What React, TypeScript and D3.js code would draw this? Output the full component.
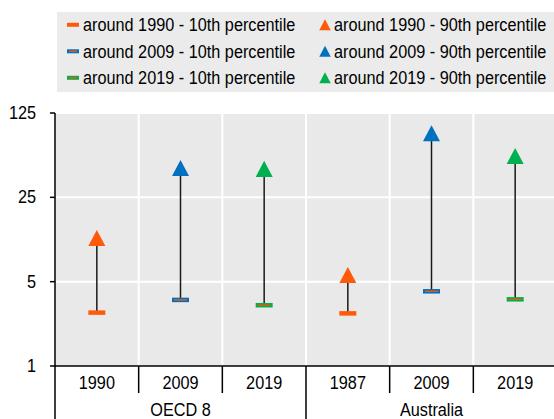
import React from "react";
import * as d3 from "d3";

// categories
const groups = ["OECD 8", "Australia"];
const periods = ["1990", "2009", "2019", "1987", "2009", "2019"];
const groupIndex = [0, 0, 0, 1, 1, 1];
const waveIndex = [0, 1, 2, 0, 1, 2];

// series values
const p10 = [2.77, 3.53, 3.19, 2.73, 4.16, 3.57];
const p90 = [11.5, 43.8, 43, 5.68, 85, 55];

const waves = ["around 1990", "around 2009", "around 2019"];
const waveColors = ["#FF5A0A", "#0070C0", "#00B050"];
const yTicks = [1, 5, 25, 125];

const W = 554;
const H = 419;
const FONT = "'Liberation Sans', Arial, sans-serif";
const FS = 17.5;
const SX = 0.93; // the original font is a slightly condensed Arial

const tri = (cx: number, cy: number, s: number) => {
  const h = s * 0.95;
  return `M${cx},${cy - h / 2}L${cx + s / 2},${cy + h / 2}L${cx - s / 2},${cy + h / 2}Z`;
};

const Txt = ({ x, y, anchor = "start", children }: { x: number; y: number; anchor?: string; children: React.ReactNode }) => (
  <text
    transform={`translate(${x},${y}) scale(${SX},1)`}
    dy="0.35em"
    textAnchor={anchor}
    fontSize={FS}
    fill="#000"
  >
    {children}
  </text>
);

const LowMark = ({ cx, cy, w, h, wave }: { cx: number; cy: number; w: number; h: number; wave: number }) => (
  <g>
    <rect x={cx - w / 2} y={cy - h / 2} width={w} height={h} fill={waveColors[wave]} />
    {wave > 0 && (
      <rect x={cx - w / 2 + 2} y={cy - 0.75} width={w - 4} height={1.5} fill="#E8590C" />
    )}
  </g>
);

export default function App() {
  const left = 55;
  const right = 557;
  const top = 113;
  const bottom = 366;

  const x = d3.scaleBand<number>().domain(d3.range(periods.length)).range([left, right]).padding(0);
  const y = d3.scaleLog().base(5).domain([1, 125]).range([bottom, top]);
  const bw = x.bandwidth();

  const legendRows = [25.3, 51.8, 78.3];

  return (
    <svg width={W} height={H} style={{ position: "absolute", left: 0, top: 0 }} fontFamily={FONT}>
      {/* legend */}
      <rect x={57} y={12} width={497} height={80} fill="#EBEBEB" />
      {waves.map((wv, i) => (
        <g key={wv}>
          <LowMark cx={73} cy={legendRows[i] - 0.5} w={12} h={4} wave={i} />
          <Txt x={83} y={legendRows[i]}>{`${wv} - 10th percentile`}</Txt>
          <path d={tri(325, legendRows[i] - 0.5, 11.5)} fill={waveColors[i]} />
          <Txt x={334} y={legendRows[i]}>{`${wv} - 90th percentile`}</Txt>
        </g>
      ))}

      {/* plot background */}
      <rect x={left} y={top} width={right - left} height={bottom - top} fill="#E9E9E9" />
      {yTicks.slice(1).map((t) => (
        <line key={t} x1={left} x2={right} y1={y(t)} y2={y(t)} stroke="#fff" strokeWidth={2} />
      ))}
      {periods.slice(1).map((_, i) => (
        <line key={i} x1={x(i + 1)!} x2={x(i + 1)!} y1={top} y2={bottom} stroke="#fff" strokeWidth={2} />
      ))}

      {/* y axis */}
      <line x1={left} x2={left} y1={top} y2={H} stroke="#000" strokeWidth={1.5} />
      {yTicks.map((t) => (
        <g key={t}>
          <line x1={left - 5} x2={left} y1={y(t)} y2={y(t)} stroke="#000" strokeWidth={1.5} />
          <Txt x={36} y={y(t)} anchor="end">{t}</Txt>
        </g>
      ))}

      {/* x axis */}
      <line x1={left} x2={right} y1={bottom} y2={bottom} stroke="#000" strokeWidth={1.5} />
      {periods.map((p, i) => {
        const bx = x(i)!;
        const groupStart = i === 0 || groupIndex[i] !== groupIndex[i - 1];
        return (
          <g key={i}>
            {i > 0 && (
              <line x1={bx} x2={bx} y1={bottom} y2={groupStart ? H : 393} stroke="#000" strokeWidth={1.5} />
            )}
            <Txt x={bx + bw / 2} y={383} anchor="middle">{p}</Txt>
          </g>
        );
      })}
      {groups.map((g, gi) => {
        const idx = groupIndex.map((v, i) => (v === gi ? i : -1)).filter((i) => i >= 0);
        const x0 = x(idx[0])!;
        const x1 = x(idx[idx.length - 1])! + bw;
        return (
          <Txt key={g} x={(x0 + x1) / 2} y={410} anchor="middle">{g}</Txt>
        );
      })}

      {/* marks */}
      {periods.map((_, i) => {
        const cx = x(i)! + bw / 2;
        return (
          <g key={i}>
            <line x1={cx} x2={cx} y1={y(p10[i])} y2={y(p90[i])} stroke="#1a1a1a" strokeWidth={1.5} />
            <LowMark cx={cx} cy={y(p10[i])} w={17} h={4.5} wave={waveIndex[i]} />
            <path d={tri(cx, y(p90[i]), 17)} fill={waveColors[waveIndex[i]]} />
          </g>
        );
      })}
    </svg>
  );
}
